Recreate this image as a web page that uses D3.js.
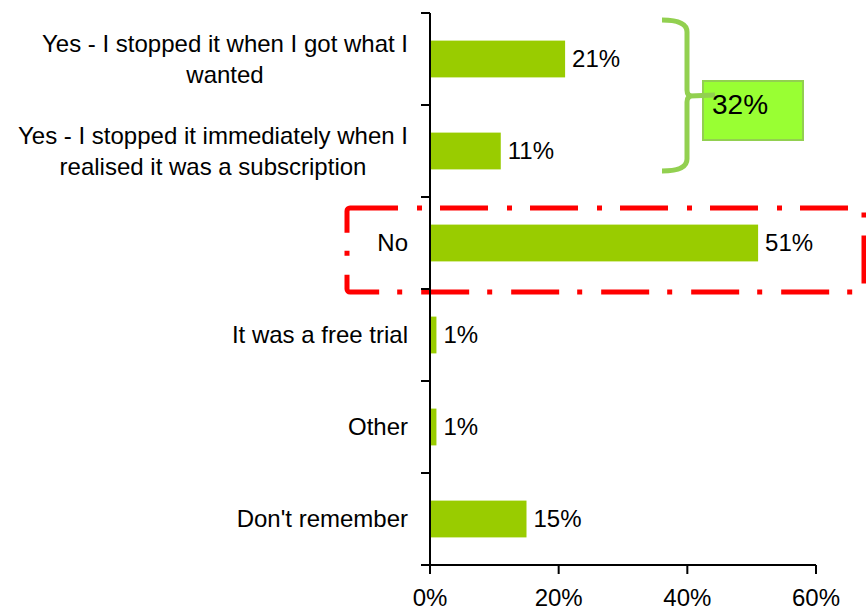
<!DOCTYPE html>
<html>
<head>
<meta charset="utf-8">
<script src="https://cdn.jsdelivr.net/npm/d3@7"></script>
<style>
  html, body { margin: 0; padding: 0; background: #fff; }
  svg { display: block; font-family: "Liberation Sans", Arial, sans-serif; }
</style>
</head>
<body>
<svg id="chart" width="866" height="611"></svg>
<script>
// Survey answers and their shares (%)
const categories = [
  "Yes - I stopped it when I got what I wanted",
  "Yes - I stopped it immediately when I realised it was a subscription",
  "No",
  "It was a free trial",
  "Other",
  "Don't remember"
];
const values = [21, 11, 51, 1, 1, 15];
const xTicks = [0, 20, 40, 60];

const svg = d3.select("#chart");
const x0 = 430, x1 = 816, yTop = 13, yBot = 565;

const x = d3.scaleLinear().domain([0, 60]).range([x0, x1]);
const y = d3.scaleBand().domain(categories).range([yTop, yBot])
  .paddingInner(0.6).paddingOuter(0.3);

const barColor = "#99cc00";
const fontSize = 24;

// Highlight around the "No" answer (drawn first so the axis sits above it)
const noBandTop = y("No") - y.step() * 0.3;
svg.append("rect")
  .attr("x", 347).attr("y", noBandTop + 11)
  .attr("width", 864 - 347).attr("height", y.step() - 8)
  .attr("rx", 3)
  .attr("fill", "none")
  .attr("stroke", "#ff0000")
  .attr("stroke-width", 5)
  .attr("stroke-dasharray", "48 19 5 18");

// Bars
svg.append("g").selectAll("rect")
  .data(categories)
  .join("rect")
  .attr("x", x(0))
  .attr("y", d => y(d))
  .attr("width", (d, i) => x(values[i]) - x(0))
  .attr("height", y.bandwidth())
  .attr("fill", barColor);

// Value labels
svg.append("g").selectAll("text")
  .data(categories)
  .join("text")
  .attr("x", (d, i) => x(values[i]) + 7)
  .attr("y", d => y(d) + y.bandwidth() / 2)
  .attr("dy", "0.35em")
  .attr("font-size", fontSize)
  .attr("fill", "#000")
  .text((d, i) => values[i] + "%");

// Category axis: vertical line plus ticks at band boundaries
const axisG = svg.append("g");
axisG.append("line")
  .attr("x1", x0).attr("x2", x0).attr("y1", yTop).attr("y2", yBot)
  .attr("stroke", "#000").attr("stroke-width", 2);
const bounds = categories.map(c => y(c) - y.step() * 0.3).concat([yBot]);
axisG.selectAll("line.tick")
  .data(bounds)
  .join("line")
  .attr("class", "tick")
  .attr("x1", x0 - 9).attr("x2", x0)
  .attr("y1", d => d).attr("y2", d => d)
  .attr("stroke", "#000").attr("stroke-width", 2);

// Category labels, wrapped and centred as a block ending at the tick side
const labelRight = 408, lineH = 31, maxW = 400;
const labelG = svg.append("g").attr("font-size", fontSize).attr("fill", "#000");
categories.forEach(cat => {
  const words = cat.split(" ");
  const t = labelG.append("text").attr("text-anchor", "middle");
  const lines = [];
  let cur = [];
  const probe = labelG.append("text");
  words.forEach(w => {
    const test = cur.concat([w]).join(" ");
    probe.text(test);
    if (probe.node().getComputedTextLength() > maxW && cur.length) {
      lines.push(cur.join(" "));
      cur = [w];
    } else {
      cur.push(w);
    }
  });
  lines.push(cur.join(" "));
  let widest = 0;
  lines.forEach(l => {
    probe.text(l);
    widest = Math.max(widest, probe.node().getComputedTextLength());
  });
  probe.remove();
  const cx = labelRight - widest / 2;
  const cy = y(cat) + y.bandwidth() / 2;
  const first = cy - (lines.length - 1) * lineH / 2;
  lines.forEach((l, i) => {
    t.append("tspan")
      .attr("x", cx)
      .attr("y", first + i * lineH)
      .attr("dy", "0.35em")
      .text(l);
  });
});

// Value axis at the bottom
const xAxisG = svg.append("g");
xAxisG.append("line")
  .attr("x1", x0 - 9).attr("x2", x1).attr("y1", yBot).attr("y2", yBot)
  .attr("stroke", "#000").attr("stroke-width", 2);
xAxisG.selectAll("line.tick")
  .data(xTicks)
  .join("line")
  .attr("class", "tick")
  .attr("x1", d => x(d)).attr("x2", d => x(d))
  .attr("y1", yBot).attr("y2", yBot + 9)
  .attr("stroke", "#000").attr("stroke-width", 2);
xAxisG.selectAll("text")
  .data(xTicks)
  .join("text")
  .attr("x", d => x(d))
  .attr("y", 606)
  .attr("text-anchor", "middle")
  .attr("font-size", fontSize)
  .attr("fill", "#000")
  .text(d => d + "%");

// Bracket grouping the two "Yes" answers with their combined share
const yesTotal = values[0] + values[1];
const bTop = 20, bBot = 171, bMid = 96, bx = 687, bTip = 662;
svg.append("rect")
  .attr("x", 703).attr("y", 81)
  .attr("width", 100).attr("height", 59)
  .attr("fill", "#99ff33")
  .attr("stroke", "#92d050")
  .attr("stroke-width", 2);
svg.append("path")
  .attr("d", `M${bTip},${bTop} Q${bx},${bTop} ${bx},${bTop + 12} L${bx},${bMid - 6}
              Q${bx},${bMid} ${bx + 5},${bMid} Q${bx},${bMid} ${bx},${bMid + 6}
              L${bx},${bBot - 12} Q${bx},${bBot} ${bTip},${bBot}
              M${bx + 3},${bMid} L715,${bMid - 1}`)
  .attr("fill", "none")
  .attr("stroke", "#92d050")
  .attr("stroke-width", 5)
  .attr("stroke-linejoin", "round");
svg.append("text")
  .attr("x", 712).attr("y", 114)
  .attr("font-size", 28)
  .attr("fill", "#000")
  .text(yesTotal + "%");
</script>
</body>
</html>
